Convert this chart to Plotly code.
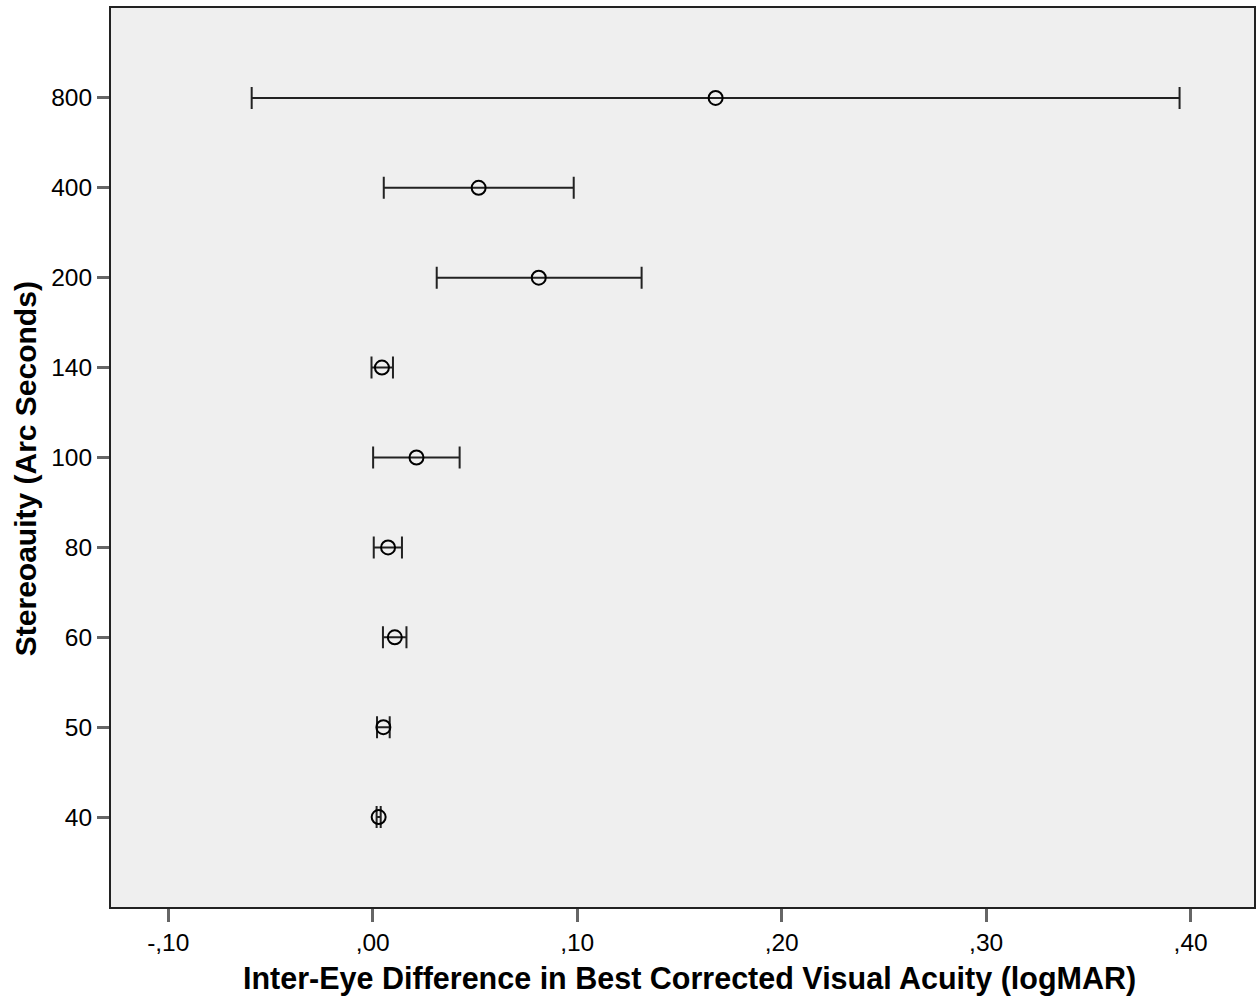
import plotly.graph_objects as go

categories = ["40", "50", "60", "80", "100", "140", "200", "400", "800"]
means = [0.0029, 0.0052, 0.0108, 0.0075, 0.0214, 0.0045, 0.0812, 0.0518, 0.1677]
lower = [0.0019, 0.0021, 0.0050, 0.0005, 0.0002, -0.0006, 0.0313, 0.0054, -0.0592]
upper = [0.0039, 0.0083, 0.0165, 0.0143, 0.0425, 0.0099, 0.1315, 0.0983, 0.3946]

x_tickvals = [-0.10, 0.0, 0.10, 0.20, 0.30, 0.40]
x_ticktext = ["-,10", ",00", ",10", ",20", ",30", ",40"]

x_title = "Inter-Eye Difference in Best Corrected Visual Acuity (logMAR)"
y_title = "Stereoauity (Arc Seconds)"

plus = [u - m for u, m in zip(upper, means)]
minus = [m - l for m, l in zip(means, lower)]

fig = go.Figure()
fig.add_trace(go.Scatter(
    x=means, y=categories, mode="markers",
    marker=dict(symbol="circle-open", size=14, color="black", line=dict(width=2, color="#222")),
    error_x=dict(type="data", symmetric=False, array=plus, arrayminus=minus,
                 color="#222", thickness=2, width=11),
    showlegend=False,
))

fig.update_layout(
    width=1259, height=999,
    margin=dict(l=111, r=5, t=8, b=92, autoexpand=False),
    paper_bgcolor="white", plot_bgcolor="#EFEFEF",
    font=dict(family="Liberation Sans, Arial, sans-serif", color="black", size=24),
    xaxis=dict(
        range=[-0.128, 0.431], tickvals=x_tickvals, ticktext=x_ticktext,
        showgrid=False, zeroline=False, showline=True, linecolor="#222", linewidth=2, mirror=True,
        ticks="outside", ticklen=13, tickwidth=3, tickcolor="#666",
        tickfont=dict(size=24.5), automargin=False,
    ),
    yaxis=dict(
        type="category", categoryorder="array", categoryarray=categories,
        range=[-1, 9],
        showgrid=False, zeroline=False, showline=True, linecolor="#222", linewidth=2, mirror=True,
        ticks="outside", ticklen=12, tickwidth=3, tickcolor="#666",
        tickfont=dict(size=24.5), automargin=False,
    ),
    annotations=[
        dict(text="<b>" + x_title + "</b>", xref="paper", yref="paper",
             x=0.506, y=-0.0790, xanchor="center", yanchor="middle",
             showarrow=False, font=dict(size=30.5)),
        dict(text="<b>" + y_title + "</b>", xref="paper", yref="paper",
             x=-0.0752, y=0.487, xanchor="center", yanchor="middle", textangle=-90,
             showarrow=False, font=dict(size=30)),
    ],
)

fig.write_html(
    "out.html",
    config={"displayModeBar": False},
    post_script="document.body.style.margin='0';document.body.style.overflow='hidden';",
)
